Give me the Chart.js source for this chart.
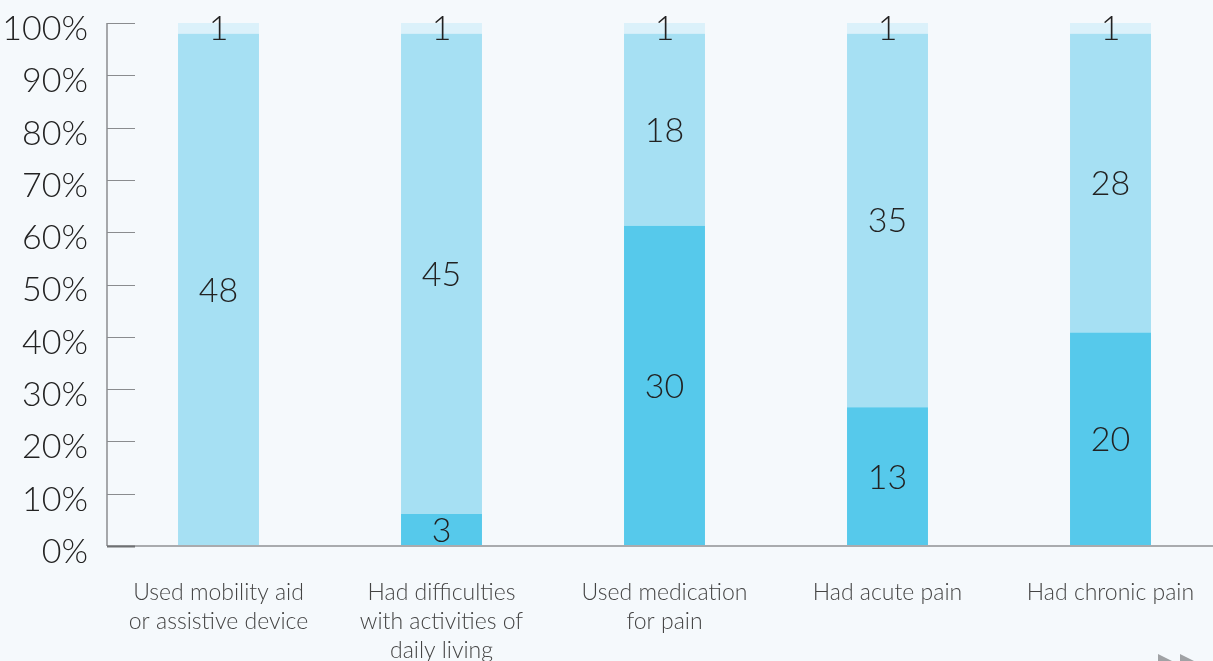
<!DOCTYPE html>
<html><head><meta charset="utf-8">
<script src="https://cdn.jsdelivr.net/npm/chart.js@4"></script>
<style>
html,body{margin:0;padding:0;background:#f5f9fc;overflow:hidden;width:1213px;height:661px;}
#wrap{position:absolute;left:0;top:0;width:1222px;height:661px;}
</style></head>
<body><div id="wrap"><canvas id="c" width="1222" height="661"></canvas></div>
<script>
const categories = [
  ["Used mobility aid","or assistive device"],
  ["Had difficulties","with activities of","daily living"],
  ["Used medication","for pain"],
  ["Had acute pain"],
  ["Had chronic pain"]
];
const seriesDark = [0, 3, 30, 13, 20];
const seriesLight = [48, 45, 18, 35, 28];
const seriesPale = [1, 1, 1, 1, 1];
const yTicks = [0,10,20,30,40,50,60,70,80,90,100];

const totals = seriesDark.map((v,i)=>v+seriesLight[i]+seriesPale[i]);
const pct = arr => arr.map((v,i)=>v/totals[i]*100);
const raw = [seriesDark, seriesLight, seriesPale];

const FONT = "Lato";
const labelPlugin = {
  id:'segLabels',
  afterDatasetsDraw(chart){
    const ctx = chart.ctx;
    ctx.save();
    ctx.font = "300 34px " + FONT;
    ctx.fillStyle = "#222";
    ctx.textAlign = "center";
    ctx.textBaseline = "middle";
    chart.data.datasets.forEach((ds,di)=>{
      const meta = chart.getDatasetMeta(di);
      meta.data.forEach((el,i)=>{
        const v = raw[di][i];
        if(!v) return;
        const y = (el.y + el.base)/2;
        ctx.fillText(String(v), el.x, y+1);
      });
    });
    ctx.restore();
  }
};
const axisPlugin = {
  id:'axisDecor',
  afterDraw(chart){
    const ctx = chart.ctx, y = chart.scales.y, a = chart.chartArea;
    ctx.save();
    ctx.strokeStyle = "#a9abae"; ctx.lineWidth = 2;
    ctx.beginPath(); ctx.moveTo(a.left, a.bottom); ctx.lineTo(a.right, a.bottom); ctx.stroke();
    ctx.strokeStyle = "#7a7c7f"; ctx.lineWidth = 1.3;
    ctx.beginPath(); ctx.moveTo(a.left, y.getPixelForValue(100)); ctx.lineTo(a.left, a.bottom); ctx.stroke();
    yTicks.forEach(t=>{
      const py = Math.round(y.getPixelForValue(t)) + 0.5;
      ctx.strokeStyle = t===0 ? "#6e7073" : "#8a8c8f";
      ctx.lineWidth = t===0 ? 2 : 1;
      ctx.beginPath(); ctx.moveTo(a.left, py); ctx.lineTo(a.left+28, py); ctx.stroke();
    });
    ctx.fillStyle = "#a0a2a5";
    [1158, 1180].forEach(x0=>{
      ctx.beginPath(); ctx.moveTo(x0, 654); ctx.lineTo(x0+14, 661); ctx.lineTo(x0, 668); ctx.closePath(); ctx.fill();
    });
    ctx.restore();
  }
};

new Chart(document.getElementById('c'), {
  type:'bar',
  data:{
    labels: categories,
    datasets:[
      {data: pct(seriesDark), backgroundColor:"#56c9eb"},
      {data: pct(seriesLight), backgroundColor:"#a6e0f3"},
      {data: pct(seriesPale), backgroundColor:"#dbf1fa"}
    ]
  },
  options:{
    responsive:false, animation:false,
    layout:{padding:{top:23, right:0, left:0, bottom:0}},
    plugins:{legend:{display:false}, tooltip:{enabled:false}},
    datasets:{bar:{barPercentage:0.363, categoryPercentage:1, borderWidth:0}},
    scales:{
      x:{stacked:true,
        grid:{display:false, drawTicks:false},
        border:{display:false},
        ticks:{padding:32, color:"#444", font:{family:FONT, size:23, weight:300, lineHeight:1.27}, maxRotation:0, autoSkip:false},
        afterFit(s){ s.height = 661-546; s.paddingLeft = 0; s.paddingRight = 0; }
      },
      y:{stacked:true, min:0, max:100,
        afterBuildTicks(s){ s.ticks = yTicks.map(v=>({value:v})); },
        grid:{display:false, drawTicks:false},
        border:{display:false},
        ticks:{padding:19, labelOffset:6, color:"#222", font:{family:FONT, size:34, weight:300}, callback:v=>v+"%"},
        afterFit(s){ s.width = 107; s.paddingTop = 0; s.paddingBottom = 0; }
      }
    }
  },
  plugins:[labelPlugin, axisPlugin]
});
</script></body></html>
